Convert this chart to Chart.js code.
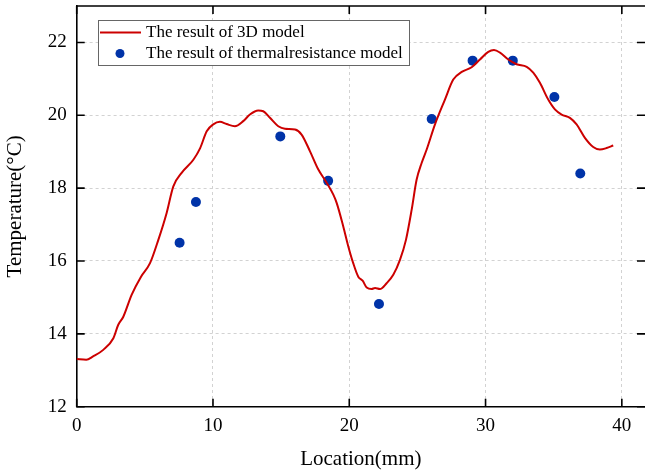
<!DOCTYPE html>
<html>
<head>
<meta charset="utf-8">
<script src="https://cdn.jsdelivr.net/npm/chart.js@4"></script>
<style>
  body { margin: 0; background: #fff; }
  canvas { display: block; }
</style>
</head>
<body>
<canvas id="myChart" width="645" height="476"></canvas>
<script>
// data
const modelX = [0, 0.7, 1.2, 1.95, 2.69, 3.05, 3.42, 4.03, 4.72, 5.38, 5.99, 6.6, 7.09, 7.7, 8.56, 9.06, 9.54,
  10.02, 10.51, 11.0, 11.61, 12.22, 12.71, 13.32, 13.69, 14.18, 14.79, 15.28, 16.02, 16.5, 17.12, 17.73, 18.34,
  18.83, 19.08, 19.56, 19.93, 20.29, 20.66, 20.98, 21.28, 21.64, 21.89, 22.25, 22.74, 23.23, 23.72, 24.16, 24.58,
  24.94, 25.31, 25.68, 26.29, 27.02, 27.63, 28.25, 28.98, 29.59, 30.2, 30.62, 31.06, 31.67, 32.28, 33.02, 33.5,
  33.99, 34.6, 35.09, 35.58, 36.19, 36.68, 37.29, 37.9, 38.39, 38.88, 39.37];
const modelTemp = [13.31, 13.29, 13.38, 13.56, 13.88, 14.25, 14.47, 15.07, 15.57, 15.94, 16.58, 17.32, 18.05, 18.42, 18.78, 19.1, 19.56,
  19.75, 19.82, 19.76, 19.7, 19.84, 20.02, 20.13, 20.11, 19.93, 19.7, 19.63, 19.61, 19.47, 19.01, 18.51, 18.15,
  17.82, 17.59, 16.95, 16.4, 15.94, 15.57, 15.46, 15.27, 15.23, 15.26, 15.23, 15.39, 15.62, 16.03, 16.58, 17.41,
  18.23, 18.69, 19.06, 19.75, 20.43, 20.98, 21.19, 21.32, 21.53, 21.74, 21.79, 21.72, 21.53, 21.4, 21.33, 21.17,
  20.89, 20.43, 20.16, 20.02, 19.93, 19.75, 19.38, 19.13, 19.06, 19.1, 19.17];

const thermalX = [7.55, 8.75, 14.94, 18.45, 22.18, 26.05, 29.05, 32.0, 35.05, 36.95];
const thermalTemp = [16.5, 17.62, 19.42, 18.2, 14.82, 19.9, 21.5, 21.5, 20.5, 18.4];

const xTicks = [0, 10, 20, 30, 40];
const yTicks = [12, 14, 16, 18, 20, 22];

const labels = ['The result of 3D model', 'The result of thermalresistance model'];

const serif = "'Liberation Serif', 'Times New Roman', serif";
const red = '#cc0000';
const blue = '#0033a8';
const gridColor = '#d2d2d2';

// inward tick marks + top frame line
const framePlugin = {
    id: 'frame',
    afterDraw(chart) {
        const { ctx, chartArea: a, scales } = chart;
        const len = 8;
        ctx.save();
        ctx.strokeStyle = '#000';
        ctx.lineWidth = 1.6;
        ctx.beginPath();
        ctx.moveTo(a.left, a.top);
        ctx.lineTo(a.right, a.top);
        xTicks.forEach(v => {
            const x = scales.x.getPixelForValue(v);
            ctx.moveTo(x, a.bottom);
            ctx.lineTo(x, a.bottom - len);
            ctx.moveTo(x, a.top);
            ctx.lineTo(x, a.top + len);
        });
        yTicks.forEach(v => {
            const y = scales.y.getPixelForValue(v);
            ctx.moveTo(a.left, y);
            ctx.lineTo(a.left + len, y);
            ctx.moveTo(a.right, y);
            ctx.lineTo(a.right - len, y);
        });
        ctx.stroke();
        ctx.restore();
    }
};

// boxed legend inside the plot, top left
const legendPlugin = {
    id: 'boxLegend',
    afterDraw(chart) {
        const { ctx } = chart;
        const ds = chart.data.datasets;
        ctx.save();
        ctx.fillStyle = '#fff';
        ctx.fillRect(98.5, 20.5, 311, 45);
        ctx.strokeStyle = '#666';
        ctx.lineWidth = 1;
        ctx.strokeRect(98.5, 20.5, 311, 45);

        ctx.strokeStyle = ds[0].borderColor;
        ctx.lineWidth = 2;
        ctx.beginPath();
        ctx.moveTo(100, 32.5);
        ctx.lineTo(141, 32.5);
        ctx.stroke();

        ctx.fillStyle = ds[1].backgroundColor;
        ctx.beginPath();
        ctx.arc(120, 53.5, 4.5, 0, Math.PI * 2);
        ctx.fill();

        ctx.fillStyle = '#000';
        ctx.font = '17px ' + serif;
        ctx.textBaseline = 'middle';
        ctx.fillText(ds[0].label, 146, 32.5);
        ctx.fillText(ds[1].label, 146, 53.5);
        ctx.restore();
    }
};

const ctx = document.getElementById('myChart').getContext('2d');
new Chart(ctx, {
    type: 'scatter',
    data: {
        datasets: [{
            label: labels[0],
            data: modelX.map((x, i) => ({ x, y: modelTemp[i] })),
            showLine: true,
            borderColor: red,
            backgroundColor: red,
            borderWidth: 2,
            pointRadius: 0,
            cubicInterpolationMode: 'monotone'
        }, {
            label: labels[1],
            data: thermalX.map((x, i) => ({ x, y: thermalTemp[i] })),
            borderColor: blue,
            backgroundColor: blue,
            pointRadius: 5,
            borderWidth: 0
        }]
    },
    options: {
        responsive: false,
        animation: false,
        layout: { autoPadding: false, padding: { top: 6, right: 0, left: 0, bottom: 0 } },
        plugins: {
            legend: { display: false },
            tooltip: { enabled: false }
        },
        scales: {
            x: {
                type: 'linear',
                min: 0,
                max: 41.7,
                afterBuildTicks: s => { s.ticks = xTicks.map(v => ({ value: v })); },
                afterFit: s => { s.height = 69.3; s.paddingLeft = 0; s.paddingRight = 0; },
                grid: { color: gridColor, drawTicks: false },
                border: { display: true, color: '#000', width: 1.6, dash: [3, 3] },
                ticks: { color: '#000', padding: 8, font: { family: serif, size: 19 } },
                title: {
                    display: true,
                    text: 'Location(mm)',
                    color: '#000',
                    font: { family: serif, size: 21 },
                    padding: { bottom: 4 }
                }
            },
            y: {
                min: 12,
                max: 23,
                afterBuildTicks: s => { s.ticks = yTicks.map(v => ({ value: v })); },
                afterFit: s => { s.width = 76.7; s.paddingTop = 0; s.paddingBottom = 0; },
                grid: { color: gridColor, drawTicks: false },
                border: { display: true, color: '#000', width: 1.6, dash: [3, 3] },
                ticks: { color: '#000', padding: 10, font: { family: serif, size: 19 } },
                title: {
                    display: true,
                    text: 'Temperature(°C)',
                    color: '#000',
                    font: { family: serif, size: 21 },
                    padding: { top: 3 }
                }
            }
        }
    },
    plugins: [framePlugin, legendPlugin]
});
</script>
</body>
</html>
